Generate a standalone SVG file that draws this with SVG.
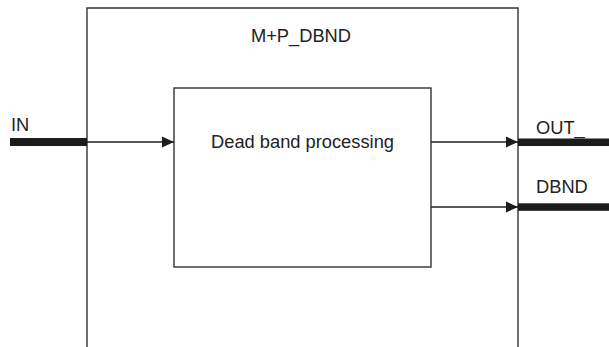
<svg xmlns="http://www.w3.org/2000/svg" width="609" height="347" viewBox="0 0 609 347">
<style>
.box{fill:#fff;stroke:#333;stroke-width:1.4}
.thin{stroke:#222;stroke-width:1.3;fill:none}
.bar{fill:#1c1c1c}
.t{font-family:"Liberation Sans",Arial,sans-serif;font-size:18.3px;fill:#222}
</style>
<defs>
<marker id="ah" markerWidth="12" markerHeight="12" viewBox="0 0 12 12" refX="12" refY="6" orient="auto" markerUnits="userSpaceOnUse">
<path d="M0,0.5 L12,6 L0,11.5 Z" fill="#1c1c1c"/>
</marker>
</defs>
<rect width="609" height="347" fill="#fff"/>
<g id="outer">
<path class="box" d="M87,360 V8 H518 V360"/>
<text class="t" x="301" y="42" text-anchor="middle">M+P_DBND</text>
</g>
<g id="inner">
<rect class="box" x="174" y="88" width="257" height="179"/>
<text class="t" x="302.5" y="148" text-anchor="middle">Dead band processing</text>
</g>
<g id="in-port">
<rect class="bar" x="10" y="138" width="77" height="8"/>
<text class="t" x="11" y="131">IN</text>
</g>
<g id="out-port">
<rect class="bar" x="518" y="138.5" width="91" height="7.5"/>
<text class="t" x="536" y="134">OUT_</text>
</g>
<g id="dbnd-port">
<rect class="bar" x="518" y="203.3" width="91" height="7.5"/>
<text class="t" x="536" y="193">DBND</text>
</g>
<g id="connectors">
<line class="thin" x1="87" y1="142" x2="174" y2="142" marker-end="url(#ah)"/>
<line class="thin" x1="431" y1="142" x2="518" y2="142" marker-end="url(#ah)"/>
<line class="thin" x1="431" y1="207" x2="518" y2="207" marker-end="url(#ah)"/>
</g>
</svg>
